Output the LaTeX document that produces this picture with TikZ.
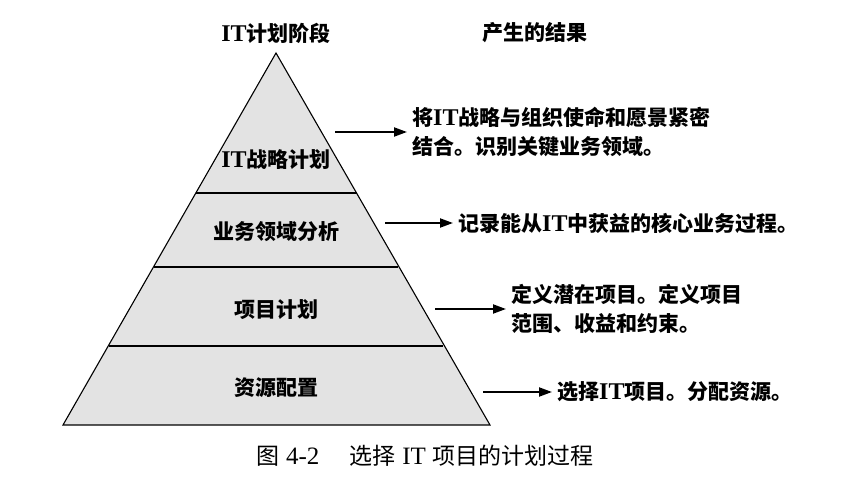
\documentclass[tikz,border=0pt]{standalone}
\usepackage{fontspec}
\setmainfont{Liberation Serif}
\newfontfamily\cjk{Noto Sans CJK SC}
\newfontfamily\lat{Liberation Serif}
\usetikzlibrary{arrows.meta}
\newcommand{\itw}{{\lat\bfseries\fontsize{24}{29}\selectfont IT}}
\begin{document}
\begin{tikzpicture}[x=1pt,y=-1pt,
  lbl/.style={font=\cjk\bfseries\fontsize{21}{29}\selectfont, inner sep=0pt},
  res/.style={font=\cjk\bfseries\fontsize{21}{29}\selectfont, align=left, anchor=west, inner sep=5pt},
  arr/.style={line width=2pt, -{Triangle[length=13pt,width=9pt]}},
  tier/.style={line width=1.1pt}]
\useasboundingbox (0,0) rectangle (855,494);
% pyramid
\coordinate (apex) at (276,53);
\coordinate (bl) at (63,425);
\coordinate (br) at (490,425);
\fill[gray!22] (apex) -- (br) -- (bl) -- cycle;
\draw[tier] (apex) -- (br) -- (bl) -- cycle;
\coordinate (d1l) at (196,193); \coordinate (d1r) at (357,193);
\coordinate (d2l) at (154,267); \coordinate (d2r) at (398,267);
\coordinate (d3l) at (109,346); \coordinate (d3r) at (443,346);
\draw[tier] (d1l) -- (d1r);
\draw[tier] (d2l) -- (d2r);
\draw[tier] (d3l) -- (d3r);
% headers
\node[lbl] (h1) at (276,33) {\itw 计划阶段};
\node[lbl] (h2) at (535,33) {产生的结果};
% tier labels
\node[lbl] (t1) at (276,160) {\itw 战略计划};
\node[lbl] (t2) at (276,232) {业务领域分析};
\node[lbl] (t3) at (276,310) {项目计划};
\node[lbl] (t4) at (276,388) {资源配置};
% results
\node[res] (r1) at (407,132) {将\itw 战略与组织使命和愿景紧密\\结合。识别关键业务领域。};
\node[res] (r2) at (453,223) {记录能从\itw 中获益的核心业务过程。};
\node[res] (r3) at (506,309) {定义潜在项目。定义项目\\范围、收益和约束。};
\node[res] (r4) at (552,392) {选择\itw 项目。分配资源。};
% arrows
\coordinate (a1) at (335,132);
\coordinate (a2) at (385,223);
\coordinate (a3) at (435,309);
\coordinate (a4) at (483,392);
\draw[arr] (a1) -- (r1.west);
\draw[arr] (a2) -- (r2.west);
\draw[arr] (a3) -- (r3.west);
\draw[arr] (a4) -- (r4.west);
% caption
\node[font=\cjk\fontsize{23}{27}\selectfont, inner sep=0pt] (cap) at (425,456) {图\hspace{0.3em}{\lat\fontsize{25}{27}\selectfont 4-2}\hspace{1.3em}选择\hspace{0.3em}{\lat\fontsize{25}{27}\selectfont IT}\hspace{0.3em}项目的计划过程};
\end{tikzpicture}
\end{document}
